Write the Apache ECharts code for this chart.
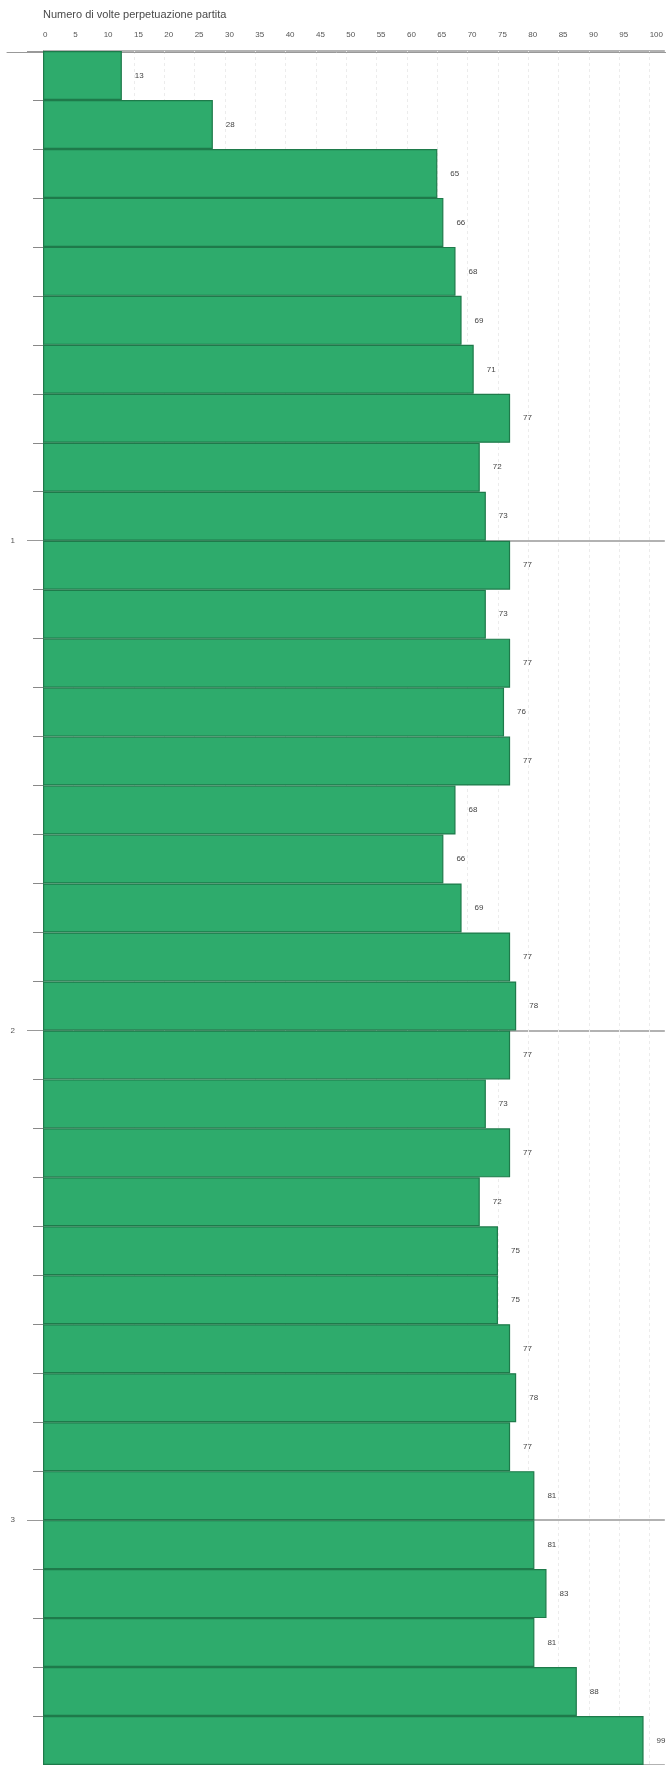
<!DOCTYPE html>
<html>
<head>
<meta charset="utf-8">
<script src="https://cdn.jsdelivr.net/npm/echarts@6/dist/echarts.min.js"></script>
<style>
html,body{margin:0;padding:0;background:#fff;}
#c{width:666px;height:1765px;}
</style>
</head>
<body>
<div id="c"></div>
<script>
var axisTitle = 'Numero di volte perpetuazione partita';
var categories = ['1','2','3','4','5','6','7','8','9','10','11','12','13','14','15','16','17','18','19','20','21','22','23','24','25','26','27','28','29','30','31','32','33','34','35'];
var values = [13,28,65,66,68,69,71,77,72,73,77,73,77,76,77,68,66,69,77,78,77,73,77,72,75,75,77,78,77,81,81,83,81,88,99];
var groupTicks = [0,10,20,30];
var groupLabels = ['','1','2','3'];

var gridColors = [];
for (var i = 0; i < 21; i++) gridColors.push('#ececec');
gridColors.push('rgba(0,0,0,0)');

var chart = echarts.init(document.getElementById('c'), null, {renderer:'canvas'});
chart.setOption({
  animation:false,
  backgroundColor:'#fff',
  textStyle:{fontFamily:'Liberation Sans, Arial, sans-serif'},
  graphic:[{type:'text', left:43, top:9, style:{text:axisTitle, fill:'#4a4a4a', fontSize:11, fontFamily:'Liberation Sans, Arial, sans-serif'}}],
  grid:[
    {left:43, right:0, top:51, height:1715},
    {left:7, right:0, top:51, height:1}
  ],
  xAxis:[
    {type:'value', gridIndex:0, position:'top', min:0, max:102.5, interval:5,
     axisLine:{show:false}, axisTick:{show:false},
     axisLabel:{color:'#555', fontSize:8, align:'left', margin:12, showMaxLabel:false,
       formatter:function(v){return v<=100?String(v):'';}},
     splitLine:{show:true, lineStyle:{color:gridColors, type:[3,3], width:1}}},
    {type:'value', gridIndex:1, position:'top', min:0, max:1,
     axisLine:{show:true, lineStyle:{color:'#999', width:1}}, axisTick:{show:false},
     axisLabel:{show:false}, splitLine:{show:false}}
  ],
  yAxis:[
    {type:'category', gridIndex:0, data:categories, inverse:true,
     axisLine:{show:true, lineStyle:{color:'#888'}},
     axisTick:{show:true, length:10, lineStyle:{color:'#888'}},
     axisLabel:{show:false}, splitLine:{show:false}},
    {type:'value', gridIndex:0, min:0, max:35, interval:10, inverse:true, position:'left',
     axisLine:{show:false},
     axisTick:{show:true, length:16, lineStyle:{color:'#999'}},
     axisLabel:{color:'#555', fontSize:8, margin:28,
       formatter:function(v){var i=groupTicks.indexOf(v);return i>=0?groupLabels[i]:'';}},
     splitLine:{show:true, lineStyle:{color:'#999', width:1.5}}},
    {type:'value', gridIndex:1, show:false}
  ],
  series:[{
    type:'bar', xAxisIndex:0, yAxisIndex:0, data:values,
    barCategoryGap:'0%',
    itemStyle:{color:'#2eab6c', borderColor:'#1e7a4a', borderWidth:1.2},
    label:{show:true, position:'right', distance:13, color:'#444', fontSize:8}
  }]
});
</script>
</body>
</html>
